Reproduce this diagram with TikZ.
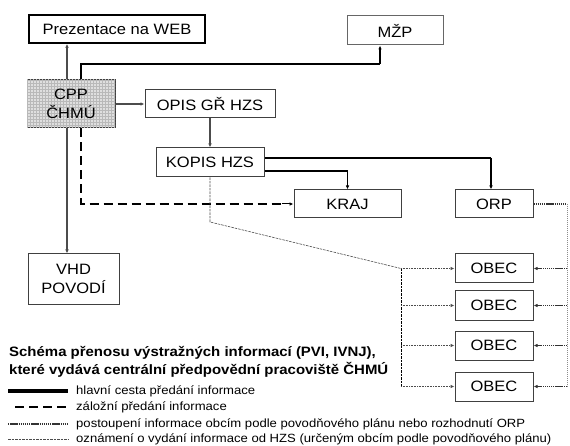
\documentclass[tikz,border=0pt]{standalone}
\usepackage{fontspec}
\setmainfont[FakeStretch=1.1]{Liberation Sans}
\usepackage{xcolor}
\usepackage{tikz}
\usetikzlibrary{arrows, arrows.meta}
\usetikzlibrary{positioning}
\usetikzlibrary{calc}
\usetikzlibrary{patterns}

\begin{document}
\begin{tikzpicture}[x=1pt, y=-1pt,
		box/.style={draw=black!75, line width=1pt, fill=white, inner sep=0pt, font=\fontsize{15}{17}\selectfont, align=center},
		tip/.style={-{Latex[length=4pt, width=3.5pt]}},
		mainline/.style={line width=2.6pt, black},
		legmain/.style={line width=3.6pt, black},
		greyline/.style={line width=1.6pt, black!70},
		backup/.style={line width=2.4pt, black, dash pattern=on 9pt off 5pt},
		pass/.style={line width=2.4pt, black!80, dash pattern=on 1.4pt off 0.7pt},
		hzs/.style={line width=0.6pt, black!70, dash pattern=on 2.5pt off 1pt}]
	\useasboundingbox (0,0) rectangle (570,446);
	% boxes
	\node[box, minimum width=176pt, minimum height=28pt, draw=black, line width=1.6pt] (web) at (117,29) {Prezentace na WEB};
	\node[box, minimum width=96pt, minimum height=29pt, draw=black!60] (mzp) at (395,30.5) {MŽP};
	\node[box, minimum width=88pt, minimum height=48pt, fill=gray!25, postaction={pattern=grid, pattern color=gray!55}, font=\fontsize{15}{19}\selectfont] (cpp) at (71,104) {CPP\\ČHMÚ};
	\node[box, minimum width=130pt, minimum height=28pt] (opis) at (210,104) {OPIS GŘ HZS};
	\node[box, minimum width=108pt, minimum height=29pt] (kopis) at (210,162.5) {KOPIS HZS};
	\node[box, minimum width=107pt, minimum height=28pt] (kraj) at (347.5,204) {KRAJ};
	\node[box, minimum width=78pt, minimum height=28pt] (orp) at (494,204) {ORP};
	\node[box, minimum width=91pt, minimum height=50pt, font=\fontsize{15}{19}\selectfont] (vhd) at (73.5,279) {VHD\\POVODÍ};
	\foreach \y [count=\i] in {268.5, 305.5, 345.5, 386.5}
	{
		\node[box, minimum width=78pt, minimum height=29pt] (obec\i) at (494,\y) {OBEC};
	}

	% main paths
	\draw[greyline, tip] ([xshift=-4pt]cpp.north) -- ([xshift=-4pt]cpp.north |- web.south);
	\draw[greyline, tip] ([xshift=-4pt]cpp.south) -- ([xshift=-4pt]cpp.south |- vhd.north);
	\draw[greyline, tip] (cpp.east) -- (opis.west);
	\draw[greyline, tip] (opis.south) -- (kopis.south |- kopis.north);
	\coordinate (mzpin) at ([xshift=-15pt]mzp.south);
	\coordinate (mzpk) at (mzpin |- 0,64);
	\draw[mainline] ([xshift=10pt]cpp.north) |- (mzpk);
	\draw[line width=1.6pt, tip] (mzpk) -- (mzpin);
	\coordinate (orpk) at ([xshift=-3pt]orp.north |- 0,158);
	\coordinate (krajk) at (kraj.north |- 0,171);
	\draw[mainline] (kopis.east |- orpk) -- (orpk);
	\draw[line width=1.6pt, tip] (orpk) -- ([xshift=-3pt]orp.north);
	\draw[mainline] (kopis.east |- krajk) -- (krajk);
	\draw[line width=1.6pt, tip] (krajk) -- (kraj.north);

	% backup path
	\draw[backup] ([xshift=10pt]cpp.south) |- ([xshift=-12pt]kraj.west);
	\draw[line width=1pt, tip] ([xshift=-12pt]kraj.west) -- (kraj.west);

	% ORP to OBEC
	\coordinate (orpr) at (567,204);
	\draw[pass] (orp.east) -- (orpr);
	\draw[line width=0.7pt, black!45, dash pattern=on 1pt off 1pt] (orpr) -- (orpr |- obec4.east);
	\foreach \i in {1,...,4}
	{
		\draw[line width=1.4pt, black!80, dash pattern=on 1.4pt off 0.7pt, tip] (orpr |- obec\i.east) -- (obec\i.east);
	}

	% HZS to OBEC
	\coordinate (hzsa) at (210,222);
	\coordinate (hzsb) at (401,268.5);
	\draw[hzs] (kopis.south) -- (hzsa) -- (hzsb);
	\draw[hzs, black] (hzsb) -- (hzsb |- obec4.west);
	\foreach \i in {1,...,4}
	{
		\draw[line width=0.9pt, black!70, dash pattern=on 1pt off 0.6pt, tip] (hzsb |- obec\i.west) -- (obec\i.west);
	}

	% legend
	\node[anchor=west, inner sep=0pt, font=\bfseries\fontsize{13.6}{15}\selectfont] (title1) at (9,353) {Schéma přenosu výstražných informací (PVI, IVNJ),};
	\node[anchor=west, inner sep=0pt, font=\bfseries\fontsize{13.6}{15}\selectfont] (title2) at (9,370) {které vydává centrální předpovědní pracoviště ČHMÚ};
	\foreach \y/\st/\x/\txt [count=\i] in {391/legmain/8/hlavní cesta předání informace, 407/backup/15/záložní předání informace, 424/pass/8/postoupení informace obcím podle povodňového plánu nebo rozhodnutí ORP, 439/hzs/8/oznámení o vydání informace od HZS (určeným obcím podle povodňového plánu)}
	{
		\draw[\st] (\x,\y) -- (68,\y);
		\node[anchor=west, inner sep=0pt, font=\fontsize{11.9}{13}\selectfont] (leg\i) at (76,\y) {\txt};
	}
\end{tikzpicture}
\end{document}
